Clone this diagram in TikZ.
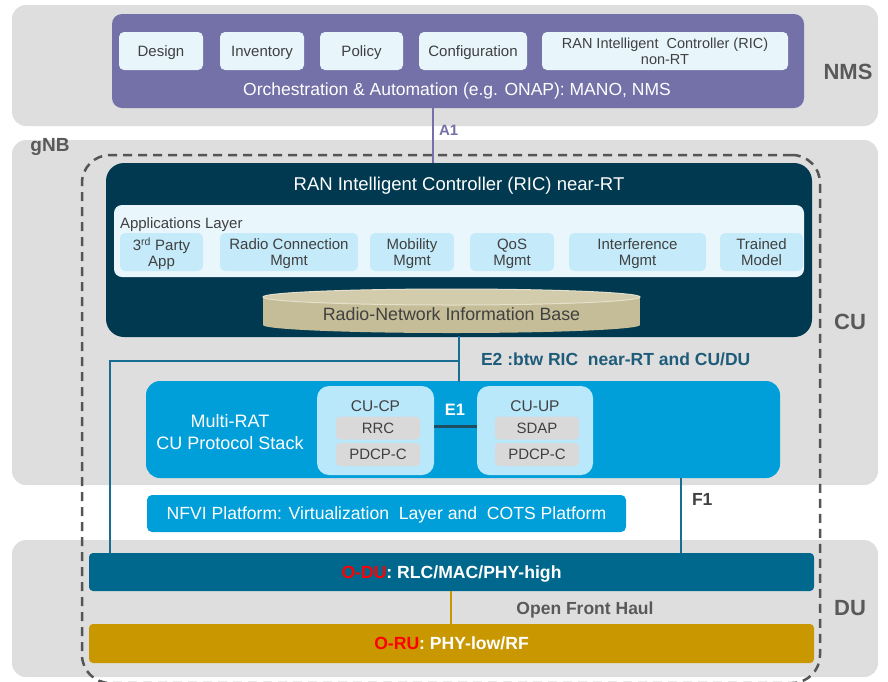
\documentclass[tikz,border=0pt]{standalone}
\usepackage{fontspec}
\setmainfont{Liberation Sans}
\usetikzlibrary{calc}

\definecolor{bandgray}{RGB}{222,222,222}
\definecolor{nmspurple}{RGB}{116,112,168}
\definecolor{paleblue}{RGB}{232,246,252}
\definecolor{ricdark}{RGB}{1,58,80}
\definecolor{panelblue}{RGB}{233,247,253}
\definecolor{appblue}{RGB}{197,235,250}
\definecolor{cylbody}{RGB}{196,189,151}
\definecolor{cyltop}{RGB}{210,204,172}
\definecolor{cylrim}{RGB}{228,224,204}
\definecolor{stackblue}{RGB}{0,159,218}
\definecolor{cubox}{RGB}{185,232,251}
\definecolor{subgray}{RGB}{217,217,217}
\definecolor{odublue}{RGB}{0,104,140}
\definecolor{rugold}{RGB}{201,151,0}
\definecolor{e2teal}{RGB}{24,110,146}
\definecolor{e2text}{RGB}{30,92,122}
\definecolor{e1dark}{RGB}{30,78,98}
\definecolor{dashgray}{RGB}{85,85,85}
\definecolor{labgray}{RGB}{89,89,89}
\definecolor{txtgray}{RGB}{64,64,64}
\definecolor{oranred}{RGB}{255,0,0}

\begin{document}
\begin{tikzpicture}[x=1pt,y=-1pt,
  blk/.style={inner sep=0pt, outer sep=0pt, align=center, text depth=0pt},
  band/.style={blk, fill=bandgray, rounded corners=14pt, minimum width=866pt},
  nmsitem/.style={blk, fill=paleblue, rounded corners=5pt, minimum height=38pt,
    text=txtgray, font=\fontsize{15}{16}\selectfont},
  appitem/.style={blk, fill=appblue, rounded corners=5pt, minimum height=38pt,
    text=txtgray, font=\fontsize{15}{16}\selectfont},
  cuitem/.style={blk, fill=cubox, rounded corners=12pt, minimum width=117pt,
    minimum height=89pt},
  subitem/.style={blk, fill=subgray, rounded corners=4pt, minimum width=84pt,
    minimum height=23pt, text=txtgray, font=\fontsize{15}{16}\selectfont},
  sidelabel/.style={blk, text=labgray, font=\bfseries\fontsize{22}{24}\selectfont},
  iflabel/.style={blk, anchor=west, font=\bfseries\fontsize{17.5}{19}\selectfont},
  wide/.style={blk, rounded corners=4pt, minimum width=725pt, text=white,
    font=\bfseries\fontsize{17.6}{19}\selectfont}
]
\useasboundingbox (0,0) rectangle (888,681);

% background bands
\node[band, minimum height=121pt] (nmsband) at (445,65.5) {};
\node[band, minimum height=345pt] (cuband) at (445,312.5) {};
\node[band, minimum height=137pt] (duband) at (445,608.5) {};

\node[sidelabel] (nmslab) at (848,72) {NMS};
\node[sidelabel] (culab) at (850,322) {CU};
\node[sidelabel] (dulab) at (850,608) {DU};
\node[blk, text=labgray, font=\bfseries\fontsize{19}{21}\selectfont] (gnblab) at (50,145) {gNB};

% gNB boundary
\node[blk, draw=dashgray, line width=2.5pt, dash pattern=on 9pt off 6pt,
  rounded corners=28pt, minimum width=738pt, minimum height=528pt] (gnb) at (451,419) {};

% NMS / orchestration
\node[blk, fill=nmspurple, rounded corners=10pt, minimum width=692pt,
  minimum height=94pt] (orch) at (458,61) {};
\node[nmsitem, minimum width=84pt] (design) at (161,51) {Design};
\node[nmsitem, minimum width=84pt] (inventory) at (262,51) {Inventory};
\node[nmsitem, minimum width=83pt] (policy) at (361.5,51) {Policy};
\node[nmsitem, minimum width=108pt] (config) at (473,51) {Configuration};
\node[nmsitem, minimum width=246pt, font=\fontsize{14.5}{16}\selectfont] (ricnonrt) at (665,51)
  {RAN Intelligent\ \ Controller (RIC)\\non-RT};
\node[blk, text=white, font=\fontsize{17.5}{19}\selectfont] (orchtext) at (457,89)
  {Orchestration \& Automation (e.g. ONAP): MANO, NMS};

% near-RT RIC
\coordinate (a1x) at (433,0);
\draw[nmspurple, line width=2pt] (orch.south -| a1x) -- (a1x |- 0,163) coordinate (a1end);
\node[iflabel, text=nmspurple, font=\bfseries\fontsize{15}{16}\selectfont] (a1lab) at (439,130) {A1};

\node[blk, fill=ricdark, rounded corners=18pt, minimum width=706pt,
  minimum height=174pt] (ricnear) at (459,250) {};
\node[blk, text=white, font=\fontsize{18.5}{20}\selectfont] (rictitle) at (459,184)
  {RAN Intelligent Controller (RIC) near-RT};
\node[blk, fill=panelblue, rounded corners=8pt, minimum width=690pt,
  minimum height=72pt] (apps) at (459,241) {};
\node[blk, anchor=west, text=txtgray, font=\fontsize{15}{16}\selectfont] (appslab) at (120,223)
  {Applications Layer};
\node[appitem, minimum width=83pt] (app3rd) at (161.5,252) {3\textsuperscript{rd} Party\\App};
\node[appitem, minimum width=138pt] (appradio) at (289,252) {Radio Connection\\Mgmt};
\node[appitem, minimum width=84pt] (appmob) at (412,252) {Mobility\\Mgmt};
\node[appitem, minimum width=84pt] (appqos) at (512,252) {QoS\\Mgmt};
\node[appitem, minimum width=137pt] (appint) at (637.5,252) {Interference\\Mgmt};
\node[appitem, minimum width=83pt] (apptrain) at (761.5,252) {Trained\\Model};

% radio-network information base (cylinder)
\fill[cylbody] (263,297) rectangle (640,325);
\fill[cylbody] (451.5,325) ellipse [x radius=188.5, y radius=8];
\filldraw[fill=cyltop, draw=cylrim, line width=1pt] (451.5,297) ellipse [x radius=188.5, y radius=8];
\node[blk, text=txtgray, font=\fontsize{17.8}{19}\selectfont] (rnib) at (451.5,314)
  {Radio-Network Information Base};

% CU protocol stack
\node[blk, fill=stackblue, rounded corners=14pt, minimum width=634pt,
  minimum height=97pt] (multirat) at (463,429.5) {};
\node[blk, text=white, font=\fontsize{18}{21.5}\selectfont] (multilab) at (230,432)
  {Multi-RAT\\CU Protocol Stack};
\node[cuitem] (cucp) at (375.5,430.5) {};
\node[blk, text=txtgray, font=\fontsize{15.5}{17}\selectfont] (cucplab) at (375.5,406) {CU-CP};
\node[subitem] (rrc) at (378,428) {RRC};
\node[subitem] (pdcpc) at (378,454.5) {PDCP-C};
\node[cuitem, minimum width=116pt] (cuup) at (535,430.5) {};
\node[blk, text=txtgray, font=\fontsize{15.5}{17}\selectfont] (cuuplab) at (535,406) {CU-UP};
\node[subitem] (sdap) at (537,428) {SDAP};
\node[subitem] (pdcpu) at (537,454.5) {PDCP-C};

\coordinate (e1y) at (0,426);
\draw[e1dark, line width=3pt] (cucp.east |- e1y) -- (cuup.west |- e1y);
\node[blk, text=white, font=\bfseries\fontsize{16.5}{18}\selectfont] (e1lab) at (455,410) {E1};

\node[blk, fill=stackblue, rounded corners=5pt, minimum width=479pt,
  minimum height=37pt, text=white, font=\fontsize{17.6}{19}\selectfont] (nfvi) at (386.5,513.5)
  {NFVI Platform: Virtualization\ \ Layer and\ \ COTS Platform};

% DU and RU
\node[wide, fill=odublue, minimum height=38pt] (odu) at (451.5,572)
  {\textcolor{oranred}{O-DU}: RLC/MAC/PHY-high};
\node[wide, fill=rugold, minimum height=39pt] (oru) at (451.5,643.5)
  {\textcolor{oranred}{O-RU}: PHY-low/RF};

% E2 interface
\coordinate (e2j) at (459,361);
\coordinate (e2l) at (110,361);
\draw[e2teal, line width=2.5pt, line cap=rect] (ricnear.south -| e2j) -- (multirat.north -| e2j);
\draw[e2teal, line width=2.5pt] (e2j) -- (e2l) -- (e2l |- odu.north);
\node[iflabel, text=e2text] (e2lab) at (481,359) {E2 :btw RIC\ \ near-RT and CU/DU};

% F1 interface
\coordinate (f1x) at (681,0);
\draw[e2teal, line width=2pt] (multirat.south -| f1x) -- (odu.north -| f1x);
\node[iflabel, text=txtgray] (f1lab) at (692,499) {F1};

% open front haul
\coordinate (fhx) at (451,0);
\draw[rugold, line width=2pt] (odu.south -| fhx) -- (oru.north -| fhx);
\node[blk, text=labgray, font=\bfseries\fontsize{17.5}{19}\selectfont] (fhlab) at (585,608)
  {Open Front Haul};

\end{tikzpicture}
\end{document}
